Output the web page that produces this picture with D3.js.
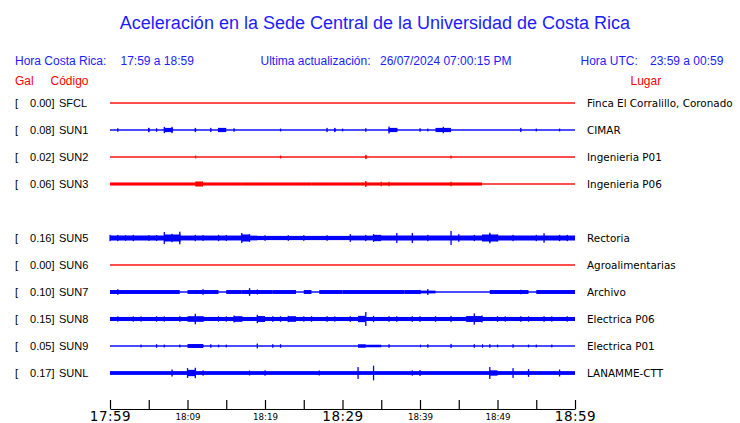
<!DOCTYPE html>
<html><head><meta charset="utf-8">
<script src="https://cdn.jsdelivr.net/npm/d3@7"></script>
<style>
html,body{margin:0;padding:0;background:#fff;}
svg{display:block;}
</style></head>
<body>
<script>
// ---------------- data ----------------
const stations = ["SFCL","SUN1","SUN2","SUN3","SUN5","SUN6","SUN7","SUN8","SUN9","SUNL"];
const peakGal  = [0.00, 0.08, 0.02, 0.06, 0.16, 0.00, 0.10, 0.15, 0.05, 0.17];
const places   = ["Finca El Corralillo, Coronado","CIMAR","Ingenieria P01","Ingenieria P06",
                  "Rectoria","Agroalimentarias","Archivo","Electrica P06","Electrica P01","LANAMME-CTT"];
const rowSlot  = [0,1,2,3,5,6,7,8,9,10];     // SUN4 slot (4) is empty
const inactive = ["SFCL","SUN2","SUN3","SUN6"];  // drawn in red
// minutes after 17:59 for axis ticks
const tickMinutes  = [0,5,10,15,20,25,30,35,40,45,50,55,60];
const labelMinutes = [0,10,20,30,40,50,60];
const majorMinutes = [0,30,60];
// relative trace amplitude (1 = largest excursion)
const baseAmp = [0.1, 0.1, 0.1, 0.1, 0.3, 0.1, 0.1, 0.29, 0.1, 0.27];
// [start minute, end minute, amplitude]
const bands = {
  SFCL: [],
  SUN1: [[7.1,8.5,0.3],[11.1,11.5,0.2],[14.8,15.5,0.3],[29.4,29.8,0.2],[36.4,37.0,0.3],[42.7,44.1,0.3]],
  SUN2: [[11.1,11.9,0.22],[33.5,33.8,0.2]],
  SUN3: [[0,17.1,0.22],[17.3,26.4,0.22],[26.6,32.7,0.22],[32.9,48,0.22],[11.1,12.0,0.36]],
  SUN5: [[0,7.5,0.35],[7.5,9.8,0.5],[9.8,17.2,0.34],[17.2,18.3,0.5],[18.3,19.5,0.33],[31.5,34.5,0.33],
         [34.5,35.3,0.45],[35.3,48.9,0.35],[48.9,50.0,0.5],[50,60,0.35]],
  SUN6: [],
  SUN7: [[0.2,9.7,0.28],[10.3,14.4,0.28],[15,17,0.28],[17.6,21.5,0.28],[21.9,24.7,0.28],[25.2,26.7,0.28],
         [27.5,30.0,0.28],[30.5,38.1,0.28],[38.3,40,0.28],[40.2,42.1,0.2],[49.8,54.2,0.28],[55.3,60,0.28]],
  SUN8: [[10.8,12.0,0.4],[16.0,17.0,0.4],[19.2,20.0,0.42],[23.2,24.2,0.4],[32.6,33.6,0.45],[46.6,48.4,0.42]],
  SUN9: [[10.4,12.3,0.28],[32.6,33.5,0.25],[33.5,35,0.18],[40.2,40.9,0.2],[48,48.6,0.25]],
  SUNL: [[10.5,11.8,0.45],[49.2,50.0,0.38]]
};
// [minute, amplitude]
const spikes = {
  SFCL: [],
  SUN1: [[1.46,0.25],[5.35,0.3],[5.8,0.3],[6.75,0.25],[7.65,0.45],[8.04,0.45],[8.7,0.3],[11.3,0.3],[13.7,0.3],
         [14.6,0.3],[16.3,0.25],[22.6,0.2],[28.9,0.3],[29.6,0.3],[30.2,0.2],[33.7,0.25],[36.1,0.25],[36.8,0.5],
         [37.5,0.3],[40.6,0.25],[41.3,0.2],[43.4,0.45],[53.2,0.3],[55.3,0.2],[58.6,0.2]],
  SUN2: [[22.7,0.2],[33.6,0.3],[44.6,0.2]],
  SUN3: [[33.6,0.42],[33.8,0.3],[35.4,0.32],[36.7,0.32],[44.7,0.32]],
  SUN5: [[0.4,0.45],[1.3,0.45],[2.5,0.4],[3.8,0.45],[5.3,0.4],[6.5,0.42],[7.8,0.85],[8.3,0.6],[9.2,0.9],[9.6,0.6],
         [11,0.45],[12.5,0.42],[14,0.45],[15.2,0.42],[17.8,0.72],[18.1,0.55],[20.5,0.4],[23,0.4],[25.5,0.4],
         [28,0.4],[31,0.55],[33,0.45],[34.8,0.55],[37.6,0.72],[39.6,0.72],[41.5,0.45],[44.1,1.0],[45.4,0.55],
         [47,0.45],[49.3,0.75],[49.7,0.6],[50.7,0.5],[52.9,0.45],[55,0.45],[56.8,0.68],[58,0.45],[59.5,0.45]],
  SUN6: [],
  SUN7: [[1.2,0.4],[12.3,0.4],[18.2,0.55],[18.5,0.35],[19,0.35],[40.6,0.3],[41.2,0.42],[53.5,0.32]],
  SUN8: [[1,0.38],[3,0.38],[4.5,0.38],[6,0.38],[7.5,0.38],[9,0.4],[11.4,0.75],[12.5,0.4],[14,0.38],[15.5,0.38],
         [16.4,0.5],[17.5,0.38],[19.6,0.6],[21,0.4],[22.5,0.4],[23.7,0.45],[25,0.38],[26.5,0.4],[28,0.4],[29.5,0.38],
         [31,0.4],[33,1.0],[34,0.45],[36,0.4],[37.5,0.4],[39,0.4],[40.5,0.4],[42,0.4],[44.1,0.45],[46,0.38],
         [47.2,0.8],[48,0.5],[50,0.4],[51.5,0.38],[53,0.4],[54.5,0.38],[56,0.4],[57.5,0.38],[59,0.38]],
  SUN9: [[4.7,0.2],[6.2,0.25],[7.9,0.2],[9.25,0.2],[12.8,0.2],[13.1,0.25],[14.2,0.2],[15.5,0.2],[19.6,0.35],
         [21.2,0.25],[22.5,0.25],[36.3,0.25],[41.3,0.25],[44,0.3],[47.2,0.25],[49.5,0.25],[50.5,0.2],[52.5,0.25],
         [54.6,0.2],[55.7,0.2],[57.6,0.2]],
  SUNL: [[8,0.5],[10.9,0.7],[11.7,0.75],[12.9,0.38],[18.3,0.35],[20.1,0.38],[27.7,0.35],[32.6,0.85],[34.2,1.05],
         [39.1,0.38],[40.9,0.42],[49.6,0.85],[52.4,0.7],[54.6,0.55],[58.5,0.5]]
};

// ---------------- drawing ----------------
const W = 740, H = 423;
const BLUE = "#0000ff", RED = "#ff0000", TXTBLUE = "#1c1cff";
const svg = d3.select("body").append("svg").attr("width", W).attr("height", H);

const t0 = new Date(2024, 6, 26, 17, 59);
const toDate = m => d3.timeMinute.offset(t0, m);
const x = d3.scaleTime().domain([t0, toDate(60)]).range([110, 575]);
const y = d3.scalePoint().domain(d3.range(11)).range([103, 373]);
const amp = d3.scaleLinear().domain([0, 1]).range([0, 7]);

// header texts
const sans = "'Liberation Sans', Arial, Helvetica, sans-serif";
svg.append("text").attr("x", 375).attr("y", 29).attr("text-anchor", "middle")
  .attr("font-family", sans).attr("font-size", 18).attr("fill", TXTBLUE)
  .text("Aceleración en la Sede Central de la Universidad de Costa Rica");

const hdr = [
  [15, "Hora Costa Rica:"], [120.5, "17:59 a 18:59"], [260.5, "Ultima actualización:"],
  [380, "26/07/2024 07:00:15 PM"], [580.5, "Hora UTC:"], [650, "23:59 a 00:59"]
];
svg.selectAll("text.hdr").data(hdr).enter().append("text").attr("class", "hdr")
  .attr("x", d => d[0]).attr("y", 65).attr("font-family", sans).attr("font-size", 12)
  .attr("fill", TXTBLUE).text(d => d[1]);

const hdr2 = [[15, "Gal"], [50.5, "Código"], [630.5, "Lugar"]];
svg.selectAll("text.hdr2").data(hdr2).enter().append("text").attr("class", "hdr2")
  .attr("x", d => d[0]).attr("y", 85).attr("font-family", sans).attr("font-size", 12)
  .attr("fill", RED).text(d => d[1]);

// station rows
const rows = svg.selectAll("g.row").data(stations).enter().append("g").attr("class", "row")
  .attr("transform", (d, i) => `translate(0,${y(rowSlot[i])})`);

rows.append("text").attr("x", 15).attr("y", 4).attr("font-family", sans).attr("font-size", 11)
  .attr("fill", "#000").text("[");
rows.append("text").attr("x", 54.5).attr("y", 4).attr("text-anchor", "end").attr("font-family", sans)
  .attr("font-size", 11).attr("fill", "#000").text((d, i) => peakGal[i].toFixed(2) + "]");
rows.append("text").attr("x", 59).attr("y", 4).attr("font-family", sans).attr("font-size", 11)
  .attr("fill", "#000").text(d => d);
rows.append("text").attr("x", 587).attr("y", 4).attr("font-family", "'DejaVu Sans', sans-serif")
  .attr("font-size", 10.4).attr("fill", "#000").text((d, i) => places[i]);

rows.each(function(st, i) {
  const g = d3.select(this);
  const col = inactive.includes(st) ? RED : BLUE;
  const rect = (m0, m1, a) => {
    const h = Math.max(amp(a), 0.7);
    g.append("rect").attr("x", x(toDate(m0))).attr("width", Math.max(x(toDate(m1)) - x(toDate(m0)), 1))
      .attr("y", -h).attr("height", 2 * h).attr("fill", col);
  };
  rect(0, 60, baseAmp[i]);
  bands[st].forEach(b => rect(b[0], b[1], b[2]));
  spikes[st].forEach(s => {
    const h = amp(s[1]);
    g.append("rect").attr("x", x(toDate(s[0])) - 0.6).attr("width", 1.3)
      .attr("y", -h).attr("height", 2 * h).attr("fill", col);
  });
});

// time axis
const axis = d3.axisBottom(x)
  .tickValues(tickMinutes.map(toDate))
  .tickSizeInner(-9).tickSizeOuter(0).tickPadding(3)
  .tickFormat(d => {
    const m = Math.round((d - t0) / 60000);
    return labelMinutes.includes(m) ? d3.timeFormat("%H:%M")(d) : "";
  });
const ax = svg.append("g").attr("transform", "translate(0,409)").call(axis);
ax.select(".domain").attr("stroke", "#000").attr("stroke-width", 1.2);
ax.selectAll(".tick line").attr("stroke", "#000").attr("stroke-width", 1.2);
ax.selectAll(".tick text").attr("fill", "#000").attr("font-family", "'DejaVu Sans', sans-serif")
  .attr("font-size", d => majorMinutes.includes(Math.round((d - t0) / 60000)) ? 13.5 : 8.7)
  .attr("letter-spacing", d => majorMinutes.includes(Math.round((d - t0) / 60000)) ? 0.5 : 0)
  .attr("dy", d => majorMinutes.includes(Math.round((d - t0) / 60000)) ? "0.7em" : "0.9em");
</script>
</body></html>
